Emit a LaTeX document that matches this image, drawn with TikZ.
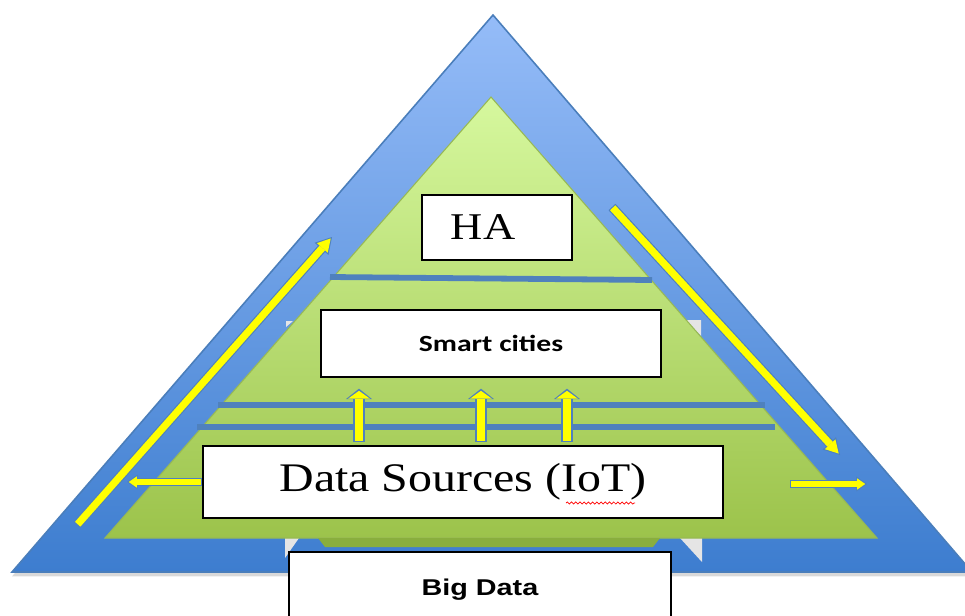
\documentclass[tikz,border=0pt]{standalone}
\usepackage{fontspec}
\usepackage{tikz}
\usetikzlibrary{calc,arrows.meta,shadows,decorations.pathmorphing}

\newfontfamily\serifwide[FakeStretch=1.18]{Liberation Serif}
\newfontfamily\calwide[FakeStretch=1.28]{Carlito}
\newfontfamily\arialwide[FakeStretch=1.26]{Liberation Sans}

\definecolor{bluetop}{HTML}{95BCF8}
\definecolor{bluebot}{HTML}{3D7DCF}
\definecolor{blueedge}{HTML}{4A7EBB}
\definecolor{greentop}{HTML}{D6F89E}
\definecolor{greenbot}{HTML}{9CC34B}
\definecolor{greenedge}{HTML}{98B954}
\definecolor{barblue}{HTML}{4F81BD}
\definecolor{stripgreen}{HTML}{89AE3E}
\definecolor{arrowyellow}{HTML}{FFFF00}

\tikzset{
	box/.style={draw=black, line width=0.9pt, fill=white, inner sep=0pt},
	barline/.style={draw=barblue, line width=3.3pt},
	shard/.style={fill=black!10, draw=none},
	diagout/.style={barblue, line width=5.4pt, -{Triangle[length=9pt,width=10.5pt,line width=0pt]}},
	diagin/.style={arrowyellow, line width=4.1pt, shorten >=1.1pt, shorten <=0.6pt, -{Triangle[length=7.2pt,width=8.2pt,line width=0pt]}},
	upout/.style={barblue, line width=6.4pt, shorten <=1.7pt, shorten >=6.2pt, -{Triangle[length=6pt,width=15pt,line width=0pt]}},
	upin/.style={arrowyellow, line width=4.8pt, shorten <=2.5pt, shorten >=7.4pt, -{Triangle[length=4.5pt,width=12.4pt,line width=0pt]}},
	smallout/.style={barblue, line width=4.6pt, -{Triangle[length=6pt,width=8.4pt,line width=0pt]}},
	smallin/.style={arrowyellow, line width=3.4pt, shorten >=1pt, shorten <=0.6pt, -{Triangle[length=4.6pt,width=6.4pt,line width=0pt]}}
}

\def\blockarrow[#1/#2](#3)(#4){\draw[#1] (#3) -- (#4); \draw[#2] (#3) -- (#4);}

\begin{document}
\begin{tikzpicture}[x=0.02cm,y=-0.02cm]
	%%%%% START %%%%%
	\useasboundingbox (0,0) rectangle (965,616);
	
	% outer pyramid
	\draw[blueedge, line width=0.9pt, top color=bluetop, bottom color=bluebot,
		drop shadow={shadow xshift=0pt, shadow yshift=-2.5pt, opacity=0.3}]
		(12,572) -- (493,15) -- (972,572) -- cycle;
	
	\fill[shard] (286,321) -- (293,321) -- (286,327) -- cycle;
	\fill[shard] (686,320) -- (701,320) -- (701,336) -- cycle;
	\fill[shard] (285,538) -- (299,538) -- (285,558) -- cycle;
	\fill[shard] (680,538) -- (702,538) -- (702,562) -- cycle;
	
	% inner pyramid
	\draw[greenedge, line width=0.6pt, top color=greentop, bottom color=greenbot]
		(105,538) -- (491,97) -- (877,538) -- cycle;
	\fill[stripgreen] (318,538) -- (660,538) -- (653,547) -- (325,547) -- cycle;
	
	\draw[barline] (330,277) -- (652,280);
	\draw[barline] (218,405) -- (765,405);
	\draw[barline] (197,427) -- (775,427);
	
	% boxes
	\node[box, minimum width=3cm, minimum height=1.3cm] (ha) at (497,227.5)
		{\serifwide\fontsize{21.5}{24}\selectfont HA\hspace*{15.9pt}};
	\node[box, minimum width=6.8cm, minimum height=1.34cm] (sc) at (491,343.5)
		{\calwide\bfseries\fontsize{13.2}{15}\selectfont Smart cities};
	\node[box, minimum width=10.4cm, minimum height=1.44cm] (ds) at (463,482)
		{\serifwide\fontsize{23.1}{26}\selectfont Data Sources (IoT)};
	\node[box, minimum width=7.64cm, minimum height=1.52cm] (bd) at (480,590)
		{\arialwide\bfseries\fontsize{13}{15}\selectfont Big Data};
	
	\draw[red, line width=0.4pt, decorate, decoration={snake, amplitude=0.6pt, segment length=2.4pt}]
		(566,503) -- (635,503);
	
	% arrows
	\coordinate (u1) at (359,0);
	\coordinate (u2) at (481,0);
	\coordinate (u3) at (567,0);
	\blockarrow[upout/upin](u1 |- ds.north)(u1 |- sc.south)
	\blockarrow[upout/upin](u2 |- ds.north)(u2 |- sc.south)
	\blockarrow[upout/upin](u3 |- ds.north)(u3 |- sc.south)
	
	\coordinate (lt) at (77,525);
	\coordinate (lh) at (332,237);
	\coordinate (rt) at (612,207);
	\coordinate (rh) at (840,455);
	\blockarrow[diagout/diagin](lt)(lh)
	\blockarrow[diagout/diagin](rt)(rh)
	
	\coordinate (lw) at (127,482);
	\coordinate (rs) at (790,484);
	\coordinate (re) at (867,484);
	\blockarrow[smallout/smallin](ds.west)(lw)
	\blockarrow[smallout/smallin](rs)(re)
	
	%%%%% END %%%%%
\end{tikzpicture}
\end{document}
